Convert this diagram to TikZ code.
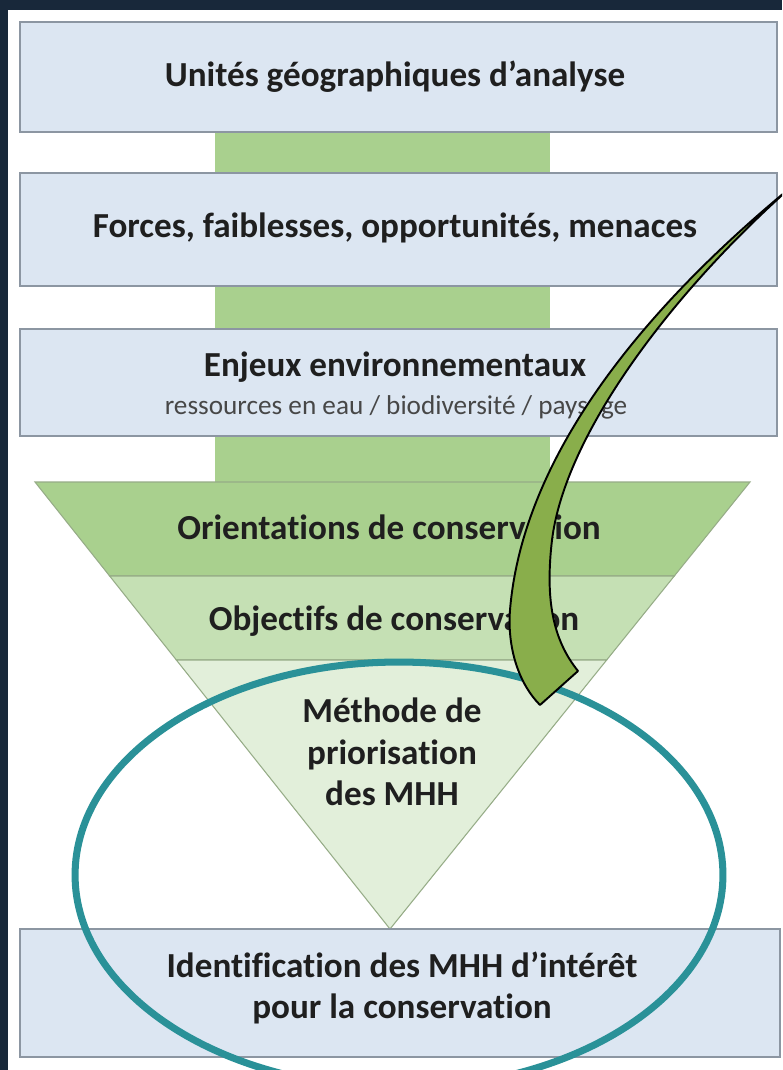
\documentclass[tikz,border=0pt]{standalone}
\usepackage{fontspec}
\setmainfont{Carlito}[Ligatures=NoCommon]
\usetikzlibrary{calc}
\definecolor{fond}{RGB}{24,40,58}
\definecolor{bleuclair}{RGB}{220,230,242}
\definecolor{bordgris}{RGB}{140,150,162}
\definecolor{vert1}{RGB}{169,208,142}
\definecolor{vert2}{RGB}{197,224,180}
\definecolor{vert3}{RGB}{226,239,218}
\definecolor{sarcelle}{RGB}{42,145,152}
\definecolor{olive}{RGB}{137,174,75}
\begin{document}
\begin{tikzpicture}[x=0.02cm, y=-0.02cm,
	boite/.style={draw=bordgris, line width=0.8pt, fill=bleuclair, minimum width=15.14cm, inner sep=0pt},
	titre/.style={font=\bfseries\fontsize{20}{23.5}\selectfont, text=black!88, align=center},
	lien/.style={draw=vert1, line width=6.7cm},
	bande/.style={draw=gray!45!vert1, line width=0.6pt},
	anneau/.style={draw=sarcelle, line width=4pt},
	fleche/.style={draw=black, line width=1.1pt, fill=olive, line join=round}]
			\clip (0,0) rectangle (782,1070);
			\fill[fond] (0,0) rectangle (782,1070);
			\fill[white] (8,10) rectangle (790,1080);
			\coordinate (axe) at (382.5,0);
			\node[boite, minimum height=2.2cm] (unites) at (398.5,77) {};
			\node[boite, minimum height=2.26cm] (forces) at (398.5,229.5) {};
			\node[boite, minimum height=2.14cm] (enjeux) at (398.5,382.5) {};
			\coordinate (hg) at (35,482);
			\coordinate (hd) at (750,482);
			\coordinate (pointe) at (390,929);
			\draw[lien] (unites.south -| axe) -- (forces.north -| axe);
			\draw[lien] (forces.south -| axe) -- (enjeux.north -| axe);
			\draw[lien] (enjeux.south -| axe) -- (hg -| axe);
			\draw[bande, fill=vert1] (hg) -- (hd) -- ($(hd)!0.2103!(pointe)$) -- ($(hg)!0.2103!(pointe)$) -- cycle;
			\draw[bande, fill=vert2] ($(hg)!0.2103!(pointe)$) -- ($(hd)!0.2103!(pointe)$) -- ($(hd)!0.3982!(pointe)$) -- ($(hg)!0.3982!(pointe)$) -- cycle;
			\draw[bande, fill=vert3] ($(hg)!0.3982!(pointe)$) -- ($(hd)!0.3982!(pointe)$) -- (pointe) -- cycle;
			\node[boite, minimum width=15.2cm, minimum height=2.56cm] (ident) at (400,993) {};
			\node[titre] (t-unites) at (395,77) {Unités géographiques d’analyse};
			\node[titre] (t-forces) at (395,228) {Forces, faiblesses, opportunités, menaces};
			\node[titre] (t-enjeux) at (395,367) {Enjeux environnementaux};
			\node[font=\fontsize{15.5}{18}\selectfont, text=black!72] (t-ressources) at (396,407) {ressources en eau / biodiversité / paysage};
			\node[titre] (t-orient) at (389,527) {Orientations de conservation};
			\node[titre] (t-objectifs) at (394,621) {Objectifs de conservation};
			\node[titre] (t-methode) at (392,752) {Méthode de\\priorisation\\des MHH};
			\node[titre] (t-ident) at (402,988) {Identification des MHH d’intérêt\\pour la conservation};
			\draw[anneau] (399,875) ellipse [x radius=6.48cm, y radius=4.26cm];
			\draw[fleche] (790,188) .. controls (630,320) and (522,465) .. (510,610) .. controls (507,650) and (520,685) .. (540,705) -- (578,671) .. controls (553,640) and (545,600) .. (552,540) .. controls (565,435) and (670,295) .. cycle;
\end{tikzpicture}
\end{document}
